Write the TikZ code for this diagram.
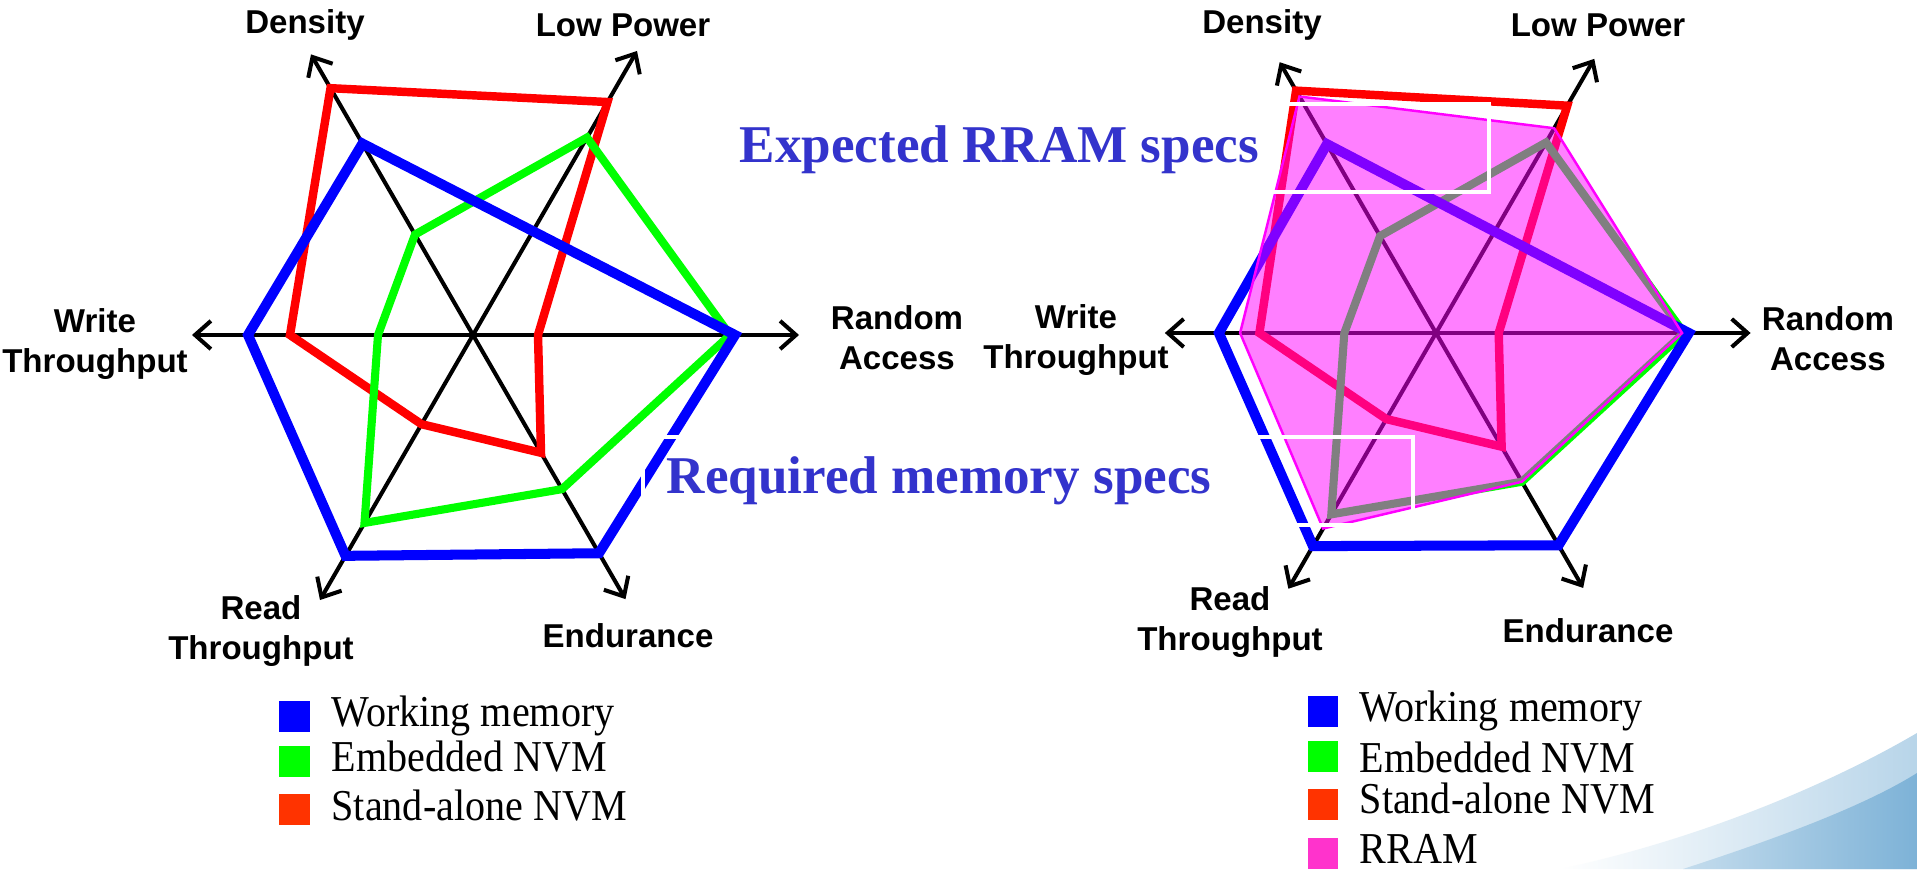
\documentclass[tikz,border=0pt]{standalone}
\usepackage{fontspec}
\setmainfont{Liberation Serif}
\setsansfont{Liberation Sans}
\usetikzlibrary{arrows.meta}

\definecolor{wmblue}{RGB}{0,0,255}
\definecolor{envmgreen}{RGB}{0,255,0}
\definecolor{snvmred}{RGB}{255,0,0}
\definecolor{snvmkey}{RGB}{255,51,0}
\definecolor{rrammag}{RGB}{255,0,255}
\definecolor{rramkey}{RGB}{255,51,204}
\definecolor{specblue}{RGB}{51,51,204}
\definecolor{swoosh}{RGB}{125,178,215}

\newcommand{\tallkey}[1]{\scalebox{1}[1.1]{#1}}

\begin{document}
\begin{tikzpicture}[x=0.01cm,y=0.01cm,>={Straight Barb[length=4.5pt,width=8pt]}]
\tikzstyle{axisline} = [->, line width=1.15pt]
\tikzstyle{axlabel} = [font=\sffamily\bfseries\fontsize{9.4}{11.4}\selectfont, align=center, inner sep=0pt]
\tikzstyle{working} = [draw=wmblue, line width=2.85pt]
\tikzstyle{embedded} = [draw=envmgreen, line width=2.3pt]
\tikzstyle{standalone} = [draw=snvmred, line width=2.4pt]
\tikzstyle{rram} = [draw=rrammag, line width=0.7pt, fill=rrammag, fill opacity=0.5]
\tikzstyle{specs} = [font=\bfseries\fontsize{15.1}{18}\selectfont, text=specblue, inner sep=0pt, anchor=base west]
\tikzstyle{callout} = [draw=white, line width=1.3pt]
\tikzstyle{keybox} = [rectangle, minimum size=0.3cm, inner sep=0pt]
\tikzstyle{keytext} = [font=\fontsize{11.4}{13}\selectfont, inner sep=0pt, anchor=base west]

\fill[white] (0,0) rectangle (1917,869);
\useasboundingbox (0,0) rectangle (1917,869);

% slide swoosh
\shade[left color=white, right color=swoosh!55] (1560,0) .. controls (1700,30) and (1830,85) .. (1917,136) -- (1917,0) -- cycle;
\shade[left color=swoosh!45, right color=swoosh] (1683,0) .. controls (1760,25) and (1860,60) .. (1917,96) -- (1917,0) -- cycle;

% left chart
\begin{scope}[shift={(473,534)}]
\coordinate (c1) at (0,0);
\foreach \a/\r in {0/326,60/328,120/324,180/281,240/306,300/305}
  \draw[axisline] (c1) -- (\a:\r);
\draw[standalone] (120:285) -- (60:269) -- (0:65) -- (-60:136) -- (240:103) -- (180:183) -- cycle;
\draw[embedded] (120:116) -- (60:228) -- (0:257) -- (-60:178) -- (240:217) -- (180:95) -- cycle;
\draw[working] (120:221) -- (0:262) -- (-60:252) -- (240:255) -- (180:225) -- cycle;
\end{scope}

% right chart
\begin{scope}[shift={(1436,536)}, scale=0.965]
\coordinate (c2) at (0,0);
\foreach \a/\r in {0/326,60/328,120/324,180/281,240/306,300/305}
  \draw[axisline] (c2) -- (\a:\r);
\draw[standalone] (120:290) -- (60:272) -- (0:65) -- (-60:136) -- (240:103) -- (180:183) -- cycle;
\draw[embedded] (120:116) -- (60:228) -- (0:257) -- (-60:178) -- (240:217) -- (180:95) -- cycle;
\draw[working] (120:226) -- (0:262) -- (-60:254) -- (240:255) -- (180:225) -- cycle;
\path[rram] (120:283) -- (60:245) -- (0:255) -- (-60:178) -- (240:234) -- (180:203) -- cycle;
\end{scope}

% callouts
\draw[callout] (725,765) rectangle (1489,677);
\draw[callout] (643,432) rectangle (1413,344);
\node[specs] (exp) at (739,706) {Expected RRAM specs};
\node[specs] (req) at (666,376) {Required memory specs};

% axis labels
\node[axlabel] (den1) at (305,844) {Density};
\node[axlabel] (low1) at (623,844) {Low Power};
\node[axlabel] (wri1) at (95,525) {Write\\Throughput};
\node[axlabel] (ran1) at (897,531) {Random\\Access};
\node[axlabel] (rea1) at (261,238) {Read\\Throughput};
\node[axlabel] (end1) at (628,233) {Endurance};
\node[axlabel] (den2) at (1262,844) {Density};
\node[axlabel] (low2) at (1598,844) {Low Power};
\node[axlabel] (wri2) at (1076,529) {Write\\Throughput};
\node[axlabel] (ran2) at (1828,530) {Random\\Access};
\node[axlabel] (rea2) at (1230,247) {Read\\Throughput};
\node[axlabel] (end2) at (1588,238) {Endurance};

% legends
\node[keybox, fill=wmblue] (ka1) at (294.5,152.5) {};
\node[keybox, fill=envmgreen] (kb1) at (294.5,107.5) {};
\node[keybox, fill=snvmkey] (kc1) at (294.5,59.5) {};
\node[keytext] (ta1) at (331,142.3) {\tallkey{Working memory}};
\node[keytext] (tb1) at (331,97.3) {\tallkey{Embedded NVM}};
\node[keytext] (tc1) at (331,49) {\tallkey{Stand-alone NVM}};

\node[keybox, fill=wmblue] (ka2) at (1322.5,157.5) {};
\node[keybox, fill=envmgreen] (kb2) at (1322.5,112.5) {};
\node[keybox, fill=snvmkey] (kc2) at (1322.5,64.5) {};
\node[keybox, fill=rramkey] (kd2) at (1322.5,15.5) {};
\node[keytext] (ta2) at (1359,147.3) {\tallkey{Working memory}};
\node[keytext] (tb2) at (1359,96.3) {\tallkey{Embedded NVM}};
\node[keytext] (tc2) at (1359,55) {\tallkey{Stand-alone NVM}};
\node[keytext] (td2) at (1359,5) {\tallkey{RRAM}};
\end{tikzpicture}
\end{document}
